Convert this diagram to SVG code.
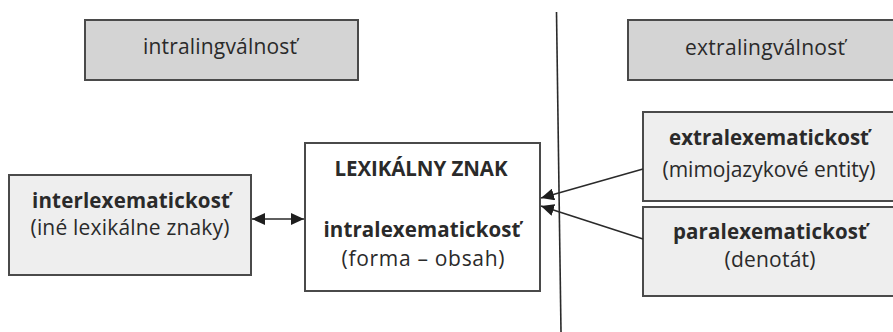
<svg xmlns="http://www.w3.org/2000/svg" width="893" height="332" viewBox="0 0 893 332">
<style>
.t{font-family:"Open Sans","Noto Sans","Liberation Sans",sans-serif;font-size:21px;fill:#2a2a2a;text-anchor:middle}
.b{font-weight:bold;font-size:20.5px}
.hdr{fill:#d4d4d4;stroke:#4a4a4a;stroke-width:2}
.sub{fill:#eeeeee;stroke:#4a4a4a;stroke-width:2}
.main{fill:#ffffff;stroke:#4a4a4a;stroke-width:2}
.ln{stroke:#2a2a2a;stroke-width:1.6;fill:none}
</style>
<defs>
<marker id="ah" viewBox="0 0 13 12" refX="13" refY="6" markerWidth="13" markerHeight="12" markerUnits="userSpaceOnUse" orient="auto-start-reverse">
<path d="M0,0 L13,6 L0,12 Z" fill="#1e1e1e"/>
</marker>
</defs>
<g id="divider">
<line class="ln" x1="556.5" y1="12" x2="561" y2="332"/>
</g>
<g id="intralingvalnost">
<rect class="hdr" x="85" y="20" width="273" height="60"/>
<text class="t" x="220" y="54" textLength="154">intralingválnosť</text>
</g>
<g id="extralingvalnost">
<rect class="hdr" x="628" y="20" width="280" height="60"/>
<text class="t" x="765" y="55" textLength="160">extralingválnosť</text>
</g>
<g id="interlexematickost">
<rect class="sub" x="9" y="175" width="242" height="100"/>
<text class="t b" x="131" y="208" textLength="198">interlexematickosť</text>
<text class="t" x="130" y="235" textLength="199">(iné lexikálne znaky)</text>
</g>
<g id="lexikalny-znak">
<rect class="main" x="305" y="143" width="235" height="148"/>
<text class="t b" x="421" y="176" textLength="173">LEXIKÁLNY ZNAK</text>
<text class="t b" x="422" y="237" textLength="197">intralexematickosť</text>
<text class="t" x="423" y="266" textLength="163">(forma – obsah)</text>
</g>
<g id="extralexematickost">
<rect class="sub" x="643" y="112" width="260" height="89"/>
<text class="t b" x="769" y="145" textLength="200">extralexematickosť</text>
<text class="t" x="769" y="177" textLength="213">(mimojazykové entity)</text>
</g>
<g id="paralexematickost">
<rect class="sub" x="643" y="207" width="260" height="89"/>
<text class="t b" x="770" y="239" textLength="194">paralexematickosť</text>
<text class="t" x="770" y="267" textLength="91">(denotát)</text>
</g>
<g id="connectors">
<line class="ln" x1="252" y1="219" x2="304" y2="219" marker-start="url(#ah)" marker-end="url(#ah)"/>
<line class="ln" x1="643" y1="169" x2="541" y2="198" marker-end="url(#ah)"/>
<line class="ln" x1="643" y1="239" x2="541" y2="206" marker-end="url(#ah)"/>
</g>
</svg>
